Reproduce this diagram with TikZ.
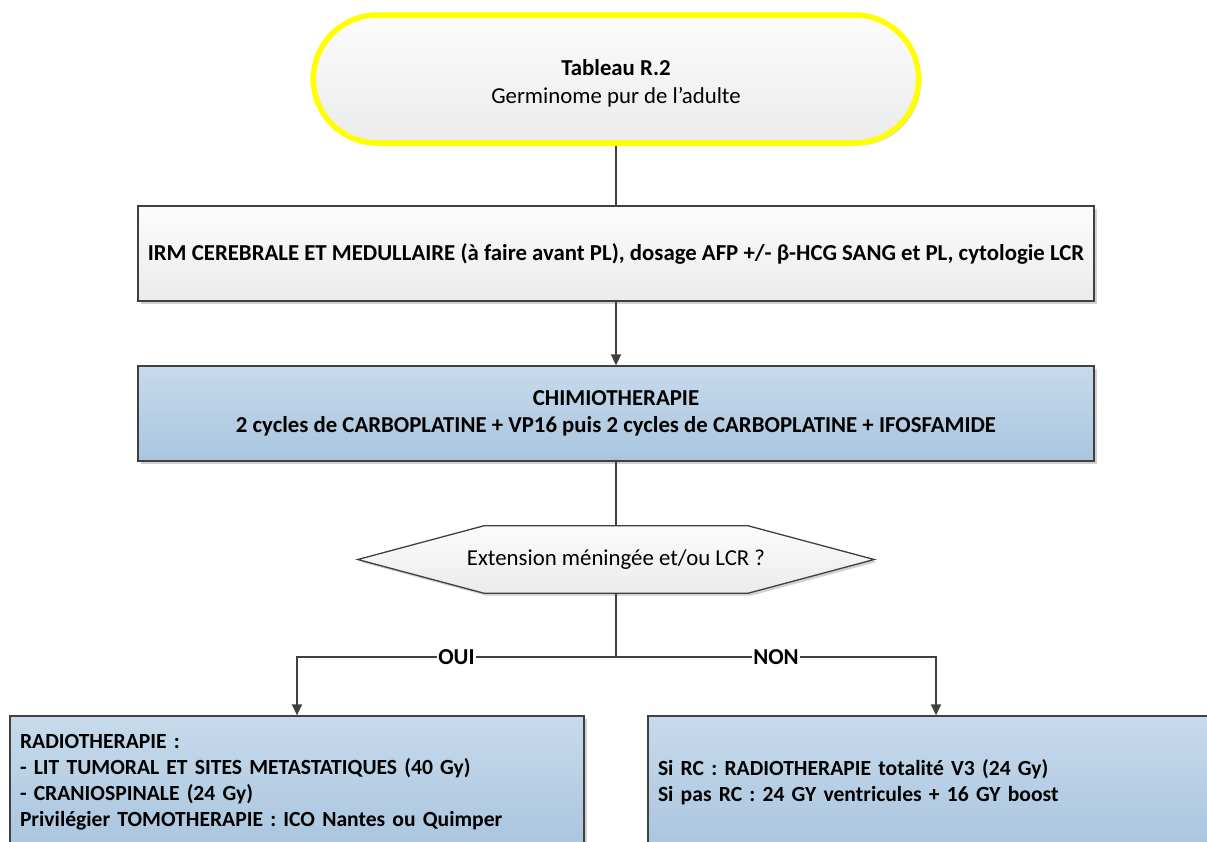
\documentclass[tikz,border=0pt]{standalone}
\usepackage{fontspec}
\setmainfont{Carlito}
\usetikzlibrary{shapes.misc,shadows,arrows.meta,calc,backgrounds}
\definecolor{lncol}{HTML}{404040}
\definecolor{graytop}{HTML}{FCFCFC}
\definecolor{graybot}{HTML}{EBEBEB}
\definecolor{bluetop}{HTML}{C7DAEC}
\definecolor{bluebot}{HTML}{A9C5DE}
\definecolor{termyellow}{HTML}{FFFF00}
\begin{document}
\begin{tikzpicture}[x=1pt,y=-1pt,
  font=\fontsize{22.8}{27}\selectfont,
  shadowed/.style={drop shadow={shadow xshift=2.5pt,shadow yshift=-2.5pt,opacity=0.18,fill=black}},
  termbox/.style={rounded rectangle,draw=termyellow,line width=5.5pt,
    minimum width=612pt,minimum height=128pt,top color=graytop,bottom color=graybot,
    align=center,shadowed},
  graybox/.style={rectangle,draw=lncol,line width=1.3pt,minimum width=956pt,minimum height=95pt,
    top color=graytop,bottom color=graybot,align=center,inner xsep=3pt,shadowed},
  bluebox/.style={rectangle,draw=lncol,line width=1.3pt,
    top color=bluetop,bottom color=bluebot,shadowed},
  smalltext/.style={font=\fontsize{21.6}{25.9}\selectfont\bfseries},
  hexshape/.style={draw=lncol,line width=1.3pt,top color=graytop,bottom color=graybot,shadowed},
  conn/.style={draw=lncol,line width=1.5pt},
  arrowconn/.style={conn,-{Triangle[length=11pt,width=10pt]}},
  lbl/.style={fill=white,inner sep=1pt,font=\fontsize{22.8}{27}\selectfont\bfseries}]
\clip (0,0) rectangle (1207,841);

\node[termbox] (term) at (616,79) {\rule{0pt}{25pt}\textbf{Tableau R.2}\\[1pt]Germinome pur de l’adulte};

\node[graybox] (irm) at (616,253.5) {\bfseries IRM CEREBRALE ET MEDULLAIRE (à faire avant PL), dosage AFP +/- β-HCG SANG et PL, cytologie LCR};

\node[bluebox,minimum width=956pt,minimum height=95pt,inner xsep=3pt,align=center] (chimio) at (616,413.5)
  {\bfseries CHIMIOTHERAPIE\\\bfseries 2 cycles de CARBOPLATINE + VP16 puis 2 cycles de CARBOPLATINE + IFOSFAMIDE};

\node[minimum width=516pt,minimum height=67pt] (hex) at (616,559.5) {Extension méningée et/ou LCR ?};
\begin{scope}[on background layer]
\path[hexshape] (hex.west) -- ($(hex.north west)+(126,0)$) -- ($(hex.north east)+(-126,0)$)
  -- (hex.east) -- ($(hex.south east)+(-126,0)$) -- ($(hex.south west)+(126,0)$) -- cycle;
\end{scope}

\coordinate (split) at (616,657);

\node[bluebox,smalltext,minimum width=574pt,minimum height=133pt,text width=554pt,inner xsep=10pt,align=left] (radio) at (297,782.5)
  {RADIOTHERAPIE :\\- LIT TUMORAL ET SITES METASTATIQUES (40 Gy)\\- CRANIOSPINALE (24 Gy)\\Privilégier TOMOTHERAPIE : ICO Nantes ou Quimper};

\node[bluebox,smalltext,minimum width=576pt,minimum height=133pt,text width=556pt,inner xsep=10pt,align=left] (sirc) at (936,782.5)
  {Si RC : RADIOTHERAPIE totalité V3 (24 Gy)\\Si pas RC : 24 GY ventricules + 16 GY boost};

\draw[conn] (term.south) -- (irm.north);
\draw[arrowconn] (irm.south) -- (chimio.north);
\draw[conn] (chimio.south) -- (hex.north);
\draw[conn] (hex.south) -- (split);
\draw[arrowconn] (split) -- node[lbl]{OUI} (split -| radio.north) -- (radio.north);
\draw[arrowconn] (split) -- node[lbl]{NON} (split -| sirc.north) -- (sirc.north);
\end{tikzpicture}
\end{document}
